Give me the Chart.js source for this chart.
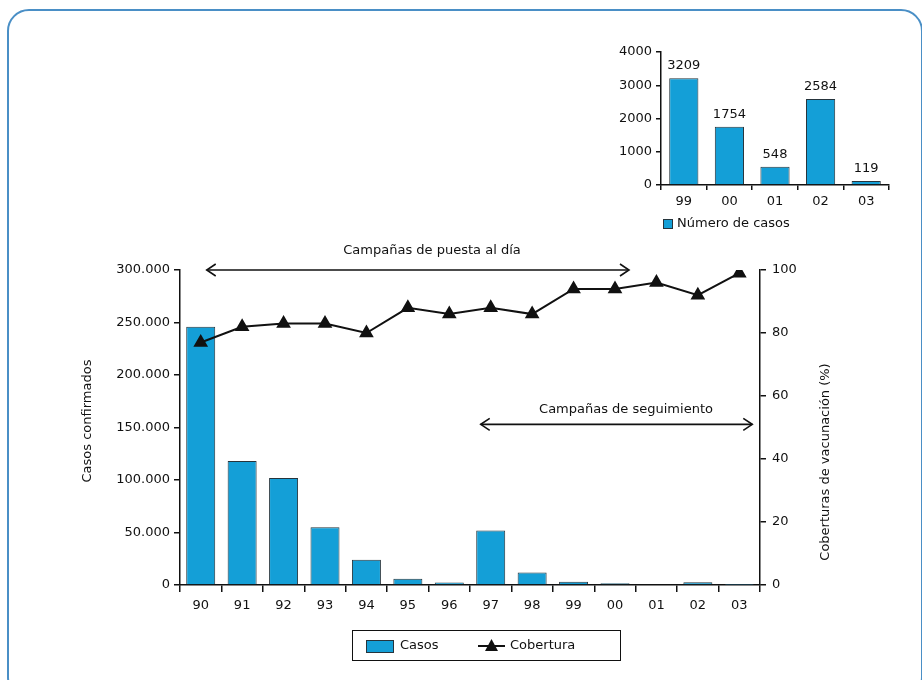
<!DOCTYPE html>
<html>
<head>
<meta charset="utf-8">
<script src="https://cdn.jsdelivr.net/npm/chart.js@4/dist/chart.umd.min.js"></script>
<style>
  html, body { margin: 0; padding: 0; background: #ffffff; }
  #wrap { position: relative; width: 922px; height: 680px; overflow: hidden; background: #fff; }
  #frame { position: absolute; left: 7px; top: 9px; width: 916px; height: 690px; border: 2px solid #4a8fc6; border-radius: 22px; box-sizing: border-box; }
  #main { position: absolute; left: 0; top: 0; }
  #inset { position: absolute; left: 560px; top: 30px; }
</style>
</head>
<body>
<div id="wrap">
  <div id="frame"></div>
  <canvas id="main" width="922" height="680"></canvas>
  <canvas id="inset" width="350" height="210"></canvas>
</div>
<script>
// ---- data ----
const years = ['90','91','92','93','94','95','96','97','98','99','00','01','02','03'];
const cases = [246000,118000,102000,55000,24000,6000,2500,52000,12000,3209,1754,548,2584,119];
const coverage = [77,82,83,83,80,88,86,88,86,94,94,96,92,99];
const casesTicks = [0,50000,100000,150000,200000,250000,300000];
const coverageTicks = [0,20,40,60,80,100];

const insetYears = ['99','00','01','02','03'];
const insetCases = [3209,1754,548,2584,119];
const insetTicks = [0,1000,2000,3000,4000];

const BLUE = '#149fd7';
const EDGE = '#26343c';
const FONT = "'DejaVu Sans', sans-serif";
const TXT = '#111';

function fmtDots(v){ return String(v).replace(/\B(?=(\d{3})+(?!\d))/g, '.'); }

function arrow(ctx, x1, x2, y){
  ctx.save();
  ctx.strokeStyle = '#111'; ctx.lineWidth = 1.6;
  ctx.beginPath(); ctx.moveTo(x1, y); ctx.lineTo(x2, y); ctx.stroke();
  const h = 9, w = 6;
  ctx.beginPath();
  ctx.moveTo(x1 + h, y - w); ctx.lineTo(x1, y); ctx.lineTo(x1 + h, y + w);
  ctx.moveTo(x2 - h, y - w); ctx.lineTo(x2, y); ctx.lineTo(x2 - h, y + w);
  ctx.stroke();
  ctx.restore();
}

const mainDecor = {
  id: 'mainDecor',
  afterDraw(chart){
    const ctx = chart.ctx;
    const x = chart.scales.x, y = chart.scales.y, y1 = chart.scales.y1;
    ctx.save();
    ctx.fillStyle = TXT;
    ctx.font = '13px ' + FONT;
    ctx.textAlign = 'center'; ctx.textBaseline = 'middle';
    // axis titles
    ctx.save(); ctx.translate(88, 421); ctx.rotate(-Math.PI/2);
    ctx.fillText('Casos confirmados', 0, 0); ctx.restore();
    ctx.save(); ctx.translate(826, 462); ctx.rotate(-Math.PI/2);
    ctx.fillText('Coberturas de vacunación (%)', 0, 0); ctx.restore();
    // campaigns
    const yTop = y.getPixelForValue(300000);
    arrow(ctx, x.getPixelForValue(0) + 6, x.getPixelForValue(10) + 14, yTop);
    ctx.fillText('Campañas de puesta al día', 432, yTop - 19);
    const ySeg = y1.getPixelForValue(51);
    arrow(ctx, x.getPixelForValue(7) - 10, x.getPixelForValue(13) + 13, ySeg);
    ctx.fillText('Campañas de seguimiento', 626, ySeg - 15);
    // legend
    ctx.strokeStyle = '#111'; ctx.lineWidth = 1;
    ctx.strokeRect(352.5, 630.5, 268, 30);
    ctx.fillStyle = BLUE; ctx.fillRect(366, 640, 27, 12);
    ctx.strokeStyle = EDGE; ctx.strokeRect(366.5, 640.5, 27, 12);
    ctx.fillStyle = TXT; ctx.textAlign = 'left';
    ctx.fillText(chart.data.datasets[0].label, 400, 646);
    ctx.strokeStyle = '#111'; ctx.lineWidth = 2;
    ctx.beginPath(); ctx.moveTo(478, 646); ctx.lineTo(505, 646); ctx.stroke();
    ctx.beginPath(); ctx.moveTo(491.5, 639); ctx.lineTo(498, 651); ctx.lineTo(485, 651); ctx.closePath(); ctx.fill();
    ctx.fillText(chart.data.datasets[1].label, 510, 646);
    ctx.restore();
  }
};

new Chart(document.getElementById('main'), {
  type: 'bar',
  data: {
    labels: years,
    datasets: [
      { type: 'bar', label: 'Casos', data: cases, yAxisID: 'y', order: 2,
        backgroundColor: BLUE, borderColor: EDGE, borderWidth: 1,
        categoryPercentage: 0.7, barPercentage: 1 },
      { type: 'line', label: 'Cobertura', data: coverage, yAxisID: 'y1', order: 1,
        borderColor: '#111', borderWidth: 2, pointStyle: 'triangle', pointRadius: 6.5,
        pointBackgroundColor: '#111', pointBorderColor: '#111', tension: 0 }
    ]
  },
  options: {
    responsive: false, animation: false, devicePixelRatio: 1,
    layout: { padding: { left: 100, right: 82, top: 270, bottom: 60 } },
    plugins: { legend: { display: false }, tooltip: { enabled: false } },
    scales: {
      x: {
        offset: true,
        grid: { display: true, offset: true, drawOnChartArea: false, drawTicks: true, tickLength: 7, color: '#111', lineWidth: 1.5 },
        border: { display: true, color: '#111', width: 1.5 },
        ticks: { color: TXT, font: { family: FONT, size: 13 }, padding: 6, maxRotation: 0, autoSkip: false },
        afterFit(s){ s.height = 35; }
      },
      y: {
        position: 'left', min: 0, max: 300000,
        afterBuildTicks(s){ s.ticks = casesTicks.map(v => ({ value: v })); },
        grid: { drawOnChartArea: false, drawTicks: true, tickLength: 6, color: '#111', lineWidth: 1.5 },
        border: { display: true, color: '#111', width: 1.5 },
        ticks: { color: TXT, font: { family: FONT, size: 13 }, padding: 4, callback: v => fmtDots(v) },
        afterFit(s){ s.width = 80; }
      },
      y1: {
        position: 'right', min: 0, max: 100,
        afterBuildTicks(s){ s.ticks = coverageTicks.map(v => ({ value: v })); },
        grid: { drawOnChartArea: false, drawTicks: true, tickLength: 6, color: '#111', lineWidth: 1.5 },
        border: { display: true, color: '#111', width: 1.5 },
        ticks: { color: TXT, font: { family: FONT, size: 13 }, padding: 6 },
        afterFit(s){ s.width = 80; }
      }
    }
  },
  plugins: [mainDecor]
});

const insetDecor = {
  id: 'insetDecor',
  afterDatasetsDraw(chart){
    const ctx = chart.ctx;
    const meta = chart.getDatasetMeta(0);
    ctx.save();
    ctx.fillStyle = TXT; ctx.font = '13px ' + FONT;
    ctx.textAlign = 'center'; ctx.textBaseline = 'bottom';
    meta.data.forEach((bar, i) => {
      ctx.fillText(String(chart.data.datasets[0].data[i]), bar.x, bar.y - 6);
    });
    // legend
    ctx.fillStyle = BLUE; ctx.fillRect(103, 189, 9, 9);
    ctx.strokeStyle = EDGE; ctx.lineWidth = 1; ctx.strokeRect(103.5, 189.5, 9, 9);
    ctx.fillStyle = TXT; ctx.textAlign = 'left'; ctx.textBaseline = 'middle';
    ctx.fillText(chart.data.datasets[0].label, 117, 194);
    ctx.restore();
  }
};

new Chart(document.getElementById('inset'), {
  type: 'bar',
  data: {
    labels: insetYears,
    datasets: [{ label: 'Número de casos', data: insetCases, backgroundColor: BLUE, borderColor: EDGE, borderWidth: 1,
      categoryPercentage: 0.64, barPercentage: 1 }]
  },
  options: {
    responsive: false, animation: false, devicePixelRatio: 1,
    layout: { padding: { left: 51, right: 21, top: 22, bottom: 25 } },
    plugins: { legend: { display: false }, tooltip: { enabled: false } },
    scales: {
      x: {
        offset: true,
        grid: { display: true, offset: true, drawOnChartArea: false, drawTicks: true, tickLength: 5, color: '#111', lineWidth: 1.5 },
        border: { display: true, color: '#111', width: 1.5 },
        ticks: { color: TXT, font: { family: FONT, size: 13 }, padding: 4, maxRotation: 0 },
        afterFit(s){ s.height = 30; }
      },
      y: {
        min: 0, max: 4000,
        afterBuildTicks(s){ s.ticks = insetTicks.map(v => ({ value: v })); },
        grid: { drawOnChartArea: false, drawTicks: true, tickLength: 5, color: '#111', lineWidth: 1.5 },
        border: { display: true, color: '#111', width: 1.5 },
        ticks: { color: TXT, font: { family: FONT, size: 13 }, padding: 4, callback: v => String(v) },
        afterFit(s){ s.width = 50; }
      }
    }
  },
  plugins: [insetDecor]
});
</script>
</body>
</html>
